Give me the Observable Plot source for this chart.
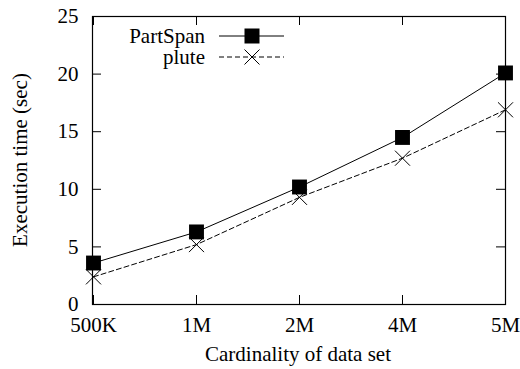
<!DOCTYPE html>
<html>
<head>
<meta charset="utf-8">
<script src="https://cdn.jsdelivr.net/npm/d3@7"></script>
<script src="https://cdn.jsdelivr.net/npm/@observablehq/plot@0.6"></script>
<style>
  html, body { margin: 0; padding: 0; background: #fff; }
  svg { display: block; }
  svg text { font-family: "Liberation Serif", "Times New Roman", serif; }
</style>
</head>
<body>
<div id="chart"></div>
<script>
const categories = ["500K", "1M", "2M", "4M", "5M"];
const partSpan = [3.6, 6.3, 10.2, 14.5, 20.1];
const plute = [2.4, 5.2, 9.3, 12.7, 16.9];
const yTicks = [0, 5, 10, 15, 20, 25];
const seriesNames = ["PartSpan", "plute"];
const xTitle = "Cardinality of data set";
const yTitle = "Execution time (sec)";

const rowsA = categories.map((c, i) => ({x: c, y: partSpan[i]}));
const rowsB = categories.map((c, i) => ({x: c, y: plute[i]}));

const font = "'Liberation Serif', 'Times New Roman', serif";
const W = 520, H = 369, ML = 92, MR = 15, MT = 16, MB = 65;
const innerW = W - ML - MR, innerH = H - MT - MB, tick = 9;

const chart = Plot.plot({
  width: W,
  height: H,
  marginLeft: ML,
  marginRight: MR,
  marginTop: MT,
  marginBottom: MB,
  style: {fontFamily: font, fontSize: "21px", background: "#fff", color: "#000"},
  x: {type: "point", domain: categories, padding: 0},
  y: {domain: [0, 25]},
  marks: [
    Plot.axisX({ticks: categories, tickSize: 0, tickPadding: 13, label: null}),
    Plot.axisY({ticks: yTicks, tickSize: 0, tickPadding: 14, label: null}),
    // inward ticks (gnuplot style), mirrored on top and right
    Plot.ruleX(categories, {x: d => d, insetTop: innerH - tick, stroke: "#000", strokeWidth: 1}),
    Plot.ruleX(categories, {x: d => d, insetBottom: innerH - tick, stroke: "#000", strokeWidth: 1}),
    Plot.ruleY(yTicks, {y: d => d, insetRight: innerW - tick, stroke: "#000", strokeWidth: 1}),
    Plot.ruleY(yTicks, {y: d => d, insetLeft: innerW - tick, stroke: "#000", strokeWidth: 1}),
    Plot.frame({stroke: "#000", strokeWidth: 1.2}),
    Plot.line(rowsA, {x: "x", y: "y", stroke: "#000", strokeWidth: 1}),
    Plot.line(rowsB, {x: "x", y: "y", stroke: "#000", strokeWidth: 1, strokeDasharray: "5,3"}),
    Plot.dot(rowsA, {x: "x", y: "y", symbol: "square", r: 8.4, fill: "#000", stroke: "none"}),
    Plot.dot(rowsB, {x: "x", y: "y", symbol: "times", r: 6.9, stroke: "#000", strokeWidth: 1, fill: "none"})
  ]
});

const svg = d3.select(chart);
svg.append("text")
  .attr("x", 298).attr("y", 361)
  .attr("text-anchor", "middle")
  .attr("font-family", font).attr("font-size", 21)
  .text(xTitle);
svg.append("text")
  .attr("transform", "translate(27,160) rotate(-90)")
  .attr("text-anchor", "middle")
  .attr("font-family", font).attr("font-size", 21)
  .text(yTitle);

const lg = svg.append("g");
const legendRows = [
  {name: seriesNames[0], ly: 36, ty: 43, dash: null, sym: "square"},
  {name: seriesNames[1], ly: 57, ty: 64, dash: "5,3", sym: "times"}
];
legendRows.forEach(r => {
  lg.append("text").attr("x", 205).attr("y", r.ty)
    .attr("text-anchor", "end")
    .attr("font-family", font).attr("font-size", 21)
    .text(r.name);
  lg.append("line").attr("x1", 219).attr("x2", 284).attr("y1", r.ly).attr("y2", r.ly)
    .attr("stroke", "#000").attr("stroke-width", 1)
    .attr("stroke-dasharray", r.dash);
  if (r.sym === "square") {
    lg.append("rect").attr("x", 252 - 7.5).attr("y", r.ly - 7.5)
      .attr("width", 15).attr("height", 15).attr("fill", "#000");
  } else {
    const a = r.ly - 7.5, b = r.ly + 7.5;
    lg.append("path").attr("d", `M244.5,${a}L259.5,${b}M244.5,${b}L259.5,${a}`)
      .attr("stroke", "#000").attr("stroke-width", 1).attr("fill", "none");
  }
});

document.getElementById("chart").appendChild(chart);
</script>
</body>
</html>
